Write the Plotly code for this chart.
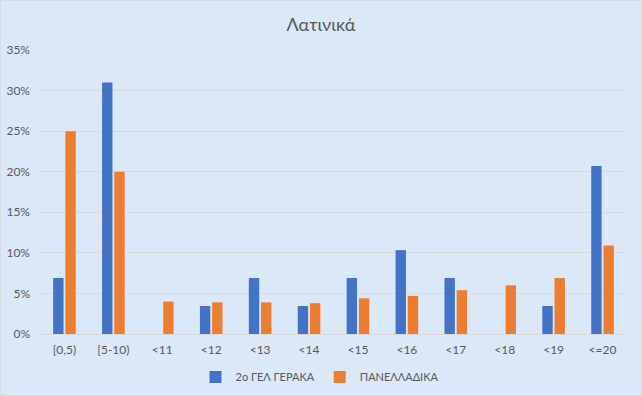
import plotly.graph_objects as go

categories = ["[0,5)", "[5-10)", "<11", "<12", "<13", "<14", "<15", "<16", "<17", "<18", "<19", "<=20"]
school = [0.069, 0.310, 0.0, 0.0345, 0.069, 0.0345, 0.069, 0.1034, 0.069, 0.0, 0.0345, 0.2069]
national = [0.250, 0.200, 0.040, 0.039, 0.039, 0.038, 0.044, 0.047, 0.054, 0.060, 0.069, 0.109]
yticks = [0, 0.05, 0.10, 0.15, 0.20, 0.25, 0.30, 0.35]

FONT = "Lato"
TXT = "#595959"

fig = go.Figure()
fig.add_trace(go.Bar(x=categories, y=school, name="2o ΓΕΛ ΓΕΡΑΚΑ", marker_color="#4472C4", marker_line_width=0))
fig.add_trace(go.Bar(x=categories, y=national, name="ΠΑΝΕΛΛΑΔΙΚΑ", marker_color="#ED7D31", marker_line_width=0))

fig.update_layout(
    width=642, height=396,
    margin=dict(l=40, r=15, t=50, b=62, autoexpand=False),
    paper_bgcolor="#dae8f8",
    plot_bgcolor="rgba(0,0,0,0)",
    barmode="group", bargap=0.5, bargroupgap=0.15,
    title=dict(text="Λατινικά", x=0.5, xanchor="center", y=1 - 25/396, yanchor="middle",
               font=dict(family=FONT, size=18, color=TXT)),
    font=dict(family=FONT, size=12, color=TXT),
    showlegend=True,
    legend=dict(orientation="h", x=0.5 - 14/587, xanchor="center", y=-43/284, yanchor="middle",
                font=dict(family=FONT, size=11, color=TXT), bgcolor="rgba(0,0,0,0)",
                itemwidth=30, tracegroupgap=0),
    xaxis=dict(showgrid=False, showline=True, linecolor="#d9d9d9", linewidth=1, ticks="",
               ticklabelstandoff=5, automargin=False,
               tickfont=dict(family=FONT, size=12, color=TXT), fixedrange=True),
    yaxis=dict(range=[0, 0.35], tickvals=yticks, tickformat=".0%", showgrid=True, gridcolor="#d9d9d9",
               gridwidth=1, zeroline=False, showline=False, ticks="", ticklabelstandoff=9,
               automargin=False,
               tickfont=dict(family=FONT, size=12, color=TXT)),
    shapes=[dict(type="rect", xref="paper", yref="paper", x0=-40/587, x1=1 + 15/587,
                 y0=-62/284, y1=1 + 50/284, line=dict(color="#d0d0d0", width=1), fillcolor="rgba(0,0,0,0)")],
)

fig.write_html("out.html", config={"displayModeBar": False})
